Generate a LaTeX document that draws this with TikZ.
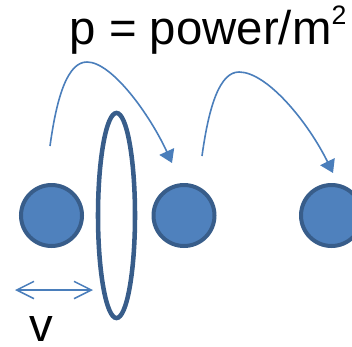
\documentclass[tikz,border=0pt]{standalone}
\usepackage{fontspec}
\setmainfont{Liberation Sans}
\usetikzlibrary{arrows.meta,shapes.geometric}

\definecolor{ballfill}{HTML}{4F81BD}
\definecolor{ballline}{HTML}{385D8A}
\definecolor{arrowblue}{HTML}{4A7EBB}

\begin{document}
\begin{tikzpicture}[x=0.75pt, y=-0.75pt,
    ball/.style={circle, fill=ballfill, draw=ballline, line width=3pt, minimum size=45.75pt, inner sep=0pt},
    jump/.style={draw=arrowblue, line width=1.2pt, -{Triangle[length=9.5pt, width=12pt]}},
    speed/.style={draw=arrowblue, line width=1.1pt, {Straight Barb[length=13pt, width=13pt]}-{Straight Barb[length=13pt, width=13pt]}},
    bigtext/.style={inner sep=0pt, font=\fontsize{35.5}{36}\selectfont}
]

\useasboundingbox (0,0) rectangle (352,346);

% Define row height
\def\rowY{215.5}

% --- Title ---
\node[bigtext, anchor=base west] (title) at (69.5,45) {p = power/m\raisebox{15.5pt}{\fontsize{20}{20}\selectfont 2}};

% --- Balls and the lens ---
\node[ball] (ball1) at (51.5,\rowY) {};
\node[ball] (ball2) at (184,\rowY) {};
\node[ball] (ball3) at (331.5,\rowY) {};

\node[ellipse, draw=ballline, line width=3.4pt, minimum width=27.75pt, minimum height=153.75pt, inner sep=0pt] (lens) at (116.5,\rowY) {};

% --- Jump arrows ---
\coordinate (jump1start) at (50,146);
\coordinate (jump1end) at (172,163);
\coordinate (jump2start) at (202,156);
\coordinate (jump2end) at (333,173);

\draw[jump] (jump1start) .. controls (57,95) and (68,62) .. (87,62)
    .. controls (112,62) and (150,115) .. (jump1end);
\draw[jump] (jump2start) .. controls (209,105) and (220,72) .. (239,72)
    .. controls (267,72) and (308,122) .. (jump2end);

% --- Speed ---
\coordinate (vleft) at (15,290);
\coordinate (vright) at (93,290);
\draw[speed] (vleft) -- (vright);

\node[bigtext, anchor=base west] (vlabel) at (29.5,341) {v};

\end{tikzpicture}
\end{document}
